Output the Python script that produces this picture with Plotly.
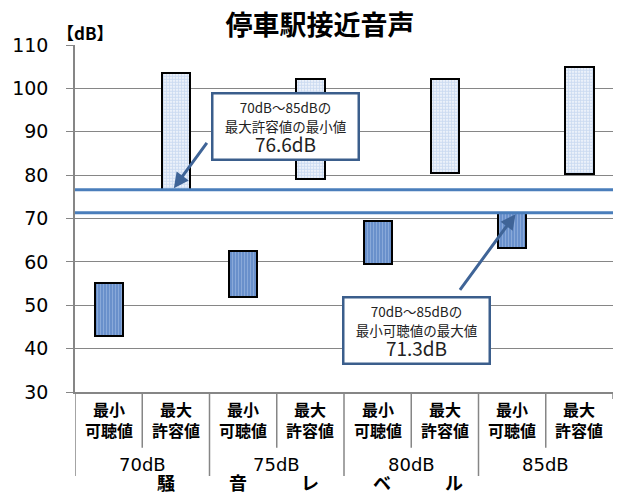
import plotly.graph_objects as go

# Noise levels and the two measured ranges per level (dB)
levels = ["70dB", "75dB", "80dB", "85dB"]
sub_labels = ["最小<br>可聴値", "最大<br>許容値"]
min_audible_low = [43.0, 52.0, 59.6, 63.2]
min_audible_high = [55.2, 62.4, 69.4, 71.3]
max_allow_low = [76.6, 79.0, 80.5, 80.3]
max_allow_high = [103.5, 102.2, 102.2, 105.0]
limit_max_allow_min = 76.6   # smallest of the maximum allowable values
limit_min_audible_max = 71.3  # largest of the minimum audible values
y_ticks = [30, 40, 50, 60, 70, 80, 90, 100, 110]
axis_title_chars = ["騒", "音", "レ", "ベ", "ル"]

JP = "Noto Sans CJK JP"
GRID = "#868686"
LINE_BLUE = "#4a7ebb"
BOX_BLUE = "#3b5e8c"

n = len(levels)
x_min = [2 * i for i in range(n)]
x_max = [2 * i + 1 for i in range(n)]

fig = go.Figure()
fig.add_trace(go.Bar(
    x=x_min,
    y=[h - l for l, h in zip(min_audible_low, min_audible_high)],
    base=min_audible_low,
    width=0.42,
    marker=dict(color="#6990cb", line=dict(color="black", width=2),
                pattern=dict(shape="|", fgcolor="#a9c2e8", bgcolor="#6990cb",
                             size=3, solidity=0.35)),
    showlegend=False,
))
fig.add_trace(go.Bar(
    x=x_max,
    y=[h - l for l, h in zip(max_allow_low, max_allow_high)],
    base=max_allow_low,
    width=0.42,
    marker=dict(color="white", line=dict(color="black", width=2),
                pattern=dict(shape=".", fgcolor="#9ab8e4", bgcolor="white",
                             size=3, solidity=0.7)),
    showlegend=False,
))

shapes = []
# reference lines across the plot
for yv in (limit_max_allow_min, limit_min_audible_max):
    shapes.append(dict(type="line", xref="x", yref="y", x0=-0.5, x1=2 * n - 0.5,
                       y0=yv, y1=yv, line=dict(color=LINE_BLUE, width=3),
                       layer="above"))
# category dividers below the axis
for k in range(2 * n + 1):
    xb = k - 0.5
    if k == 2 * n:
        y1 = -0.02
    elif k % 2 == 0:
        y1 = -0.242
    else:
        y1 = -0.161
    shapes.append(dict(type="line", xref="x", yref="paper", x0=xb, x1=xb,
                       y0=0, y1=y1, line=dict(color=GRID, width=1.5)))

annotations = []
# sub-category labels
for i in range(2 * n):
    annotations.append(dict(x=i, y=-0.0793, xref="x", yref="paper",
                            text=sub_labels[i % 2], showarrow=False,
                            yanchor="middle",
                            font=dict(family=JP, size=16, color="black",
                                      weight="bold")))
# level labels
for j, lv in enumerate(levels):
    annotations.append(dict(x=2 * j + 0.5, y=-0.2075, xref="x", yref="paper",
                            text=lv, showarrow=False, yanchor="middle",
                            font=dict(family="DejaVu Sans", size=18, color="black")))
# spaced-out axis title
for k, ch in enumerate(axis_title_chars):
    annotations.append(dict(x=2.99 + (k - 2) * 1.072, y=-0.259, xref="x",
                            yref="paper", text=ch, showarrow=False,
                            yanchor="middle",
                            font=dict(family=JP, size=18, color="black",
                                      weight="bold")))
# unit label
annotations.append(dict(x=-0.038, y=1.0346, xref="paper", yref="paper",
                        text="【dB】", showarrow=False, xanchor="left",
                        yanchor="middle",
                        font=dict(family=JP, size=17, color="black", weight="bold")))

# callout boxes
box_font = dict(family=JP, size=15, color="#222222")
for cx, cy, line2, val in (
    (2.626, 91.2, "最大許容値の最小値", limit_max_allow_min),
    (4.575, 44.2, "最小可聴値の最大値", limit_min_audible_max),
):
    txt = (f"<span style='font-size:13.5px'>70dB～85dBの</span><br>"
           f"<span style='font-size:13.5px'>{line2}</span><br>"
           f"<span style='font-size:19px'>{val}dB</span>")
    annotations.append(dict(x=cx, y=cy, xref="x", yref="y", showarrow=False,
                            text=txt, width=140, bgcolor="white",
                            bordercolor=BOX_BLUE, borderwidth=2.5, borderpad=2,
                            font=box_font, align="center"))
# arrows from the boxes to the lines
annotations.append(dict(x=0.97, y=limit_max_allow_min + 0.4, ax=1.477, ay=87.8,
                        xref="x", yref="y", axref="x", ayref="y", text="",
                        showarrow=True, arrowhead=2, arrowsize=1,
                        arrowwidth=3, arrowcolor="#3f6497"))
annotations.append(dict(x=6.05, y=limit_min_audible_max - 0.3, ax=5.208, ay=53.2,
                        xref="x", yref="y", axref="x", ayref="y", text="",
                        showarrow=True, arrowhead=2, arrowsize=1,
                        arrowwidth=3, arrowcolor="#3f6497"))

fig.update_layout(
    width=625, height=495,
    margin=dict(l=72, r=12, t=45, b=103),
    paper_bgcolor="white", plot_bgcolor="white",
    title=dict(text="停車駅接近音声", x=0.512, xanchor="center",
               y=0.949, yanchor="middle",
               font=dict(family=JP, size=27, color="black", weight="bold")),
    xaxis=dict(range=[-0.5, 2 * n - 0.5], showticklabels=False, ticks="",
               showgrid=False, zeroline=False, showline=True,
               linecolor=GRID, linewidth=1.5),
    yaxis=dict(range=[30, 110], tickvals=y_ticks, showgrid=True,
               gridcolor=GRID, gridwidth=1.2, zeroline=False,
               showline=True, linecolor=GRID, linewidth=1.5,
               ticks="outside", ticklen=7, tickcolor=GRID,
               ticklabelstandoff=14,
               tickfont=dict(family="DejaVu Sans", size=19, color="black")),
    shapes=shapes,
    annotations=annotations,
    bargap=0,
)

fig.write_html("out.html")
